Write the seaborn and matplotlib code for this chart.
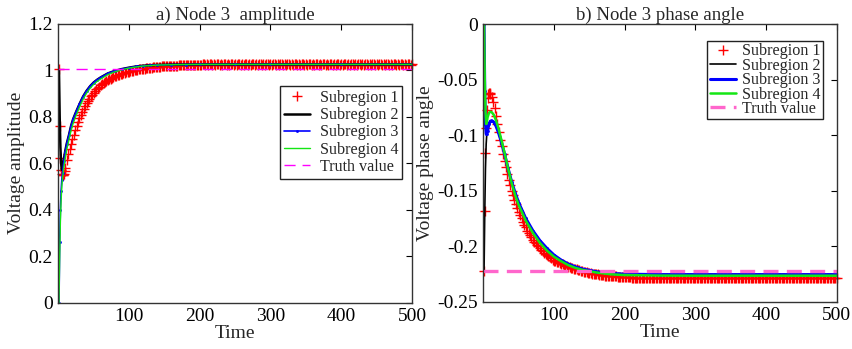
import matplotlib
matplotlib.use("Agg")
import matplotlib.pyplot as plt
import seaborn as sns
import numpy as np

# ---------------- data ----------------
# time samples for the red marker series (Subregion 1)
t_red = [1, 2, 3, 4, 5, 6, 7, 8, 9, 10] + list(range(12, 501, 2))

amp_sub1 = [1.008, 0.761, 0.622, 0.570, 0.553, 0.548, 0.550, 0.556, 0.565, 0.580,
            # t = 12 .. 100 (step 2)
            0.615, 0.640, 0.662, 0.683, 0.704, 0.724, 0.743, 0.761, 0.778, 0.794,
            0.809, 0.823, 0.836, 0.848, 0.859, 0.869, 0.879, 0.888, 0.896, 0.904,
            0.911, 0.918, 0.924, 0.930, 0.936, 0.941, 0.946, 0.950, 0.954, 0.958,
            0.962, 0.965, 0.968, 0.971, 0.974, 0.977, 0.979, 0.981, 0.984, 0.986,
            0.988, 0.990, 0.992, 0.993, 0.995,
            # t = 102 .. 200 (step 2)
            0.996, 0.997, 0.999, 1.000, 1.001, 1.003, 1.004, 1.005, 1.006, 1.007,
            1.008, 1.009, 1.010, 1.011, 1.011, 1.012, 1.013, 1.014, 1.014, 1.015,
            1.016, 1.016, 1.017, 1.017, 1.018, 1.018, 1.019, 1.019, 1.020, 1.020,
            1.020, 1.021, 1.021, 1.021, 1.022, 1.022, 1.022, 1.023, 1.023, 1.023,
            1.023, 1.024, 1.024, 1.024, 1.024, 1.024, 1.025, 1.025, 1.025, 1.025,
            # t = 202 .. 500 (step 2)
            1.025, 1.026, 1.026, 1.025, 1.026, 1.025, 1.026, 1.026, 1.025, 1.026,
            1.025, 1.026, 1.026, 1.025, 1.026, 1.025, 1.026, 1.026, 1.025, 1.026,
            1.025, 1.026, 1.026, 1.025, 1.026, 1.025, 1.026, 1.026, 1.025, 1.026,
            1.025, 1.026, 1.026, 1.025, 1.026, 1.025, 1.026, 1.026, 1.025, 1.026,
            1.025, 1.026, 1.026, 1.025, 1.026, 1.025, 1.026, 1.026, 1.025, 1.026,
            1.025, 1.026, 1.026, 1.025, 1.026, 1.025, 1.026, 1.026, 1.025, 1.026,
            1.025, 1.026, 1.026, 1.025, 1.026, 1.025, 1.026, 1.026, 1.025, 1.026,
            1.025, 1.026, 1.026, 1.025, 1.026, 1.025, 1.026, 1.026, 1.025, 1.026,
            1.025, 1.026, 1.026, 1.025, 1.026, 1.025, 1.026, 1.026, 1.025, 1.026,
            1.025, 1.026, 1.026, 1.025, 1.026, 1.025, 1.026, 1.026, 1.025, 1.026,
            1.025, 1.026, 1.026, 1.025, 1.026, 1.025, 1.026, 1.026, 1.025, 1.026,
            1.025, 1.026, 1.026, 1.025, 1.026, 1.025, 1.026, 1.026, 1.025, 1.026,
            1.025, 1.026, 1.026, 1.025, 1.026, 1.025, 1.026, 1.026, 1.025, 1.026,
            1.025, 1.026, 1.026, 1.025, 1.026, 1.025, 1.026, 1.026, 1.025, 1.026,
            1.025, 1.026, 1.026, 1.025, 1.026, 1.025, 1.026, 1.026, 1.025, 1.026]

ang_sub1 = [-0.2225, -0.168, -0.116, -0.094, -0.077, -0.067, -0.063, -0.062, -0.062, -0.063,
            # t = 12 .. 100 (step 2)
            -0.066, -0.070, -0.076, -0.083, -0.090, -0.097, -0.104, -0.110, -0.117, -0.123,
            -0.129, -0.135, -0.140, -0.145, -0.150, -0.154, -0.158, -0.162, -0.166, -0.169,
            -0.172, -0.175, -0.178, -0.181, -0.183, -0.186, -0.188, -0.190, -0.192, -0.194,
            -0.196, -0.197, -0.199, -0.200, -0.202, -0.203, -0.204, -0.206, -0.207, -0.208,
            -0.209, -0.210, -0.211, -0.212, -0.213,
            # t = 102 .. 200 (step 2)
            -0.2135, -0.2141, -0.2147, -0.2153, -0.2159, -0.2165, -0.2170, -0.2175, -0.2180, -0.2185,
            -0.2190, -0.2194, -0.2198, -0.2202, -0.2206, -0.2210, -0.2214, -0.2218, -0.2222, -0.2226,
            -0.2229, -0.2232, -0.2235, -0.2238, -0.2241, -0.2244, -0.2247, -0.2249, -0.2251, -0.2253,
            -0.2255, -0.2257, -0.2259, -0.2261, -0.2263, -0.2265, -0.2266, -0.2267, -0.2268, -0.2269,
            -0.2270, -0.2271, -0.2272, -0.2273, -0.2274, -0.2275, -0.2276, -0.2276, -0.2277, -0.2277,
            # t = 202 .. 500 (step 2)
            -0.2279, -0.2280, -0.2281, -0.2282, -0.2283, -0.2283, -0.2284, -0.2284, -0.2283, -0.2284,
            -0.2284, -0.2283, -0.2284, -0.2284, -0.2283, -0.2284, -0.2284, -0.2283, -0.2284, -0.2284,
            -0.2283, -0.2284, -0.2284, -0.2283, -0.2284, -0.2284, -0.2283, -0.2284, -0.2284, -0.2283,
            -0.2284, -0.2284, -0.2283, -0.2284, -0.2284, -0.2283, -0.2284, -0.2284, -0.2283, -0.2284,
            -0.2284, -0.2283, -0.2284, -0.2284, -0.2283, -0.2284, -0.2284, -0.2283, -0.2284, -0.2284,
            -0.2283, -0.2284, -0.2284, -0.2283, -0.2284, -0.2284, -0.2283, -0.2284, -0.2284, -0.2283,
            -0.2284, -0.2284, -0.2283, -0.2284, -0.2284, -0.2283, -0.2284, -0.2284, -0.2283, -0.2284,
            -0.2284, -0.2283, -0.2284, -0.2284, -0.2283, -0.2284, -0.2284, -0.2283, -0.2284, -0.2284,
            -0.2283, -0.2284, -0.2284, -0.2283, -0.2284, -0.2284, -0.2283, -0.2284, -0.2284, -0.2283,
            -0.2284, -0.2284, -0.2283, -0.2284, -0.2284, -0.2283, -0.2284, -0.2284, -0.2283, -0.2284,
            -0.2284, -0.2283, -0.2284, -0.2284, -0.2283, -0.2284, -0.2284, -0.2283, -0.2284, -0.2284,
            -0.2283, -0.2284, -0.2284, -0.2283, -0.2284, -0.2284, -0.2283, -0.2284, -0.2284, -0.2283,
            -0.2284, -0.2284, -0.2283, -0.2284, -0.2284, -0.2283, -0.2284, -0.2284, -0.2283, -0.2284,
            -0.2284, -0.2283, -0.2284, -0.2284, -0.2283, -0.2284, -0.2284, -0.2283, -0.2284, -0.2284,
            -0.2283, -0.2284, -0.2284, -0.2283, -0.2284, -0.2284, -0.2283, -0.2284, -0.2284, -0.2283]

# time samples for the line series (Subregions 2-4)
t_line = [1, 2, 3, 4, 5, 6, 8, 10, 12, 15, 18, 21, 25, 30, 35, 40, 45, 50, 55, 60,
          70, 80, 90, 100, 110, 120, 130, 140, 160, 180, 200, 250, 300, 400, 500]

amp_sub2 = [1.000, 0.800, 0.670, 0.600, 0.572, 0.580, 0.620, 0.655, 0.685, 0.720,
            0.760, 0.790, 0.820, 0.855, 0.887, 0.912, 0.932, 0.948, 0.960, 0.970,
            0.987, 0.998, 1.006, 1.012, 1.017, 1.020, 1.022, 1.0235, 1.025, 1.0255,
            1.026, 1.026, 1.026, 1.026, 1.026]
amp_sub3 = [0.000, 0.260, 0.400, 0.480, 0.530, 0.560, 0.610, 0.650, 0.685, 0.720,
            0.760, 0.790, 0.820, 0.855, 0.887, 0.912, 0.932, 0.948, 0.960, 0.970,
            0.987, 0.998, 1.006, 1.012, 1.017, 1.020, 1.022, 1.0235, 1.025, 1.0255,
            1.026, 1.026, 1.026, 1.026, 1.026]
amp_sub4 = [0.000, 0.200, 0.350, 0.440, 0.500, 0.535, 0.585, 0.625, 0.660, 0.700,
            0.740, 0.772, 0.805, 0.842, 0.875, 0.902, 0.923, 0.940, 0.953, 0.963,
            0.982, 0.994, 1.003, 1.010, 1.015, 1.019, 1.021, 1.023, 1.0245, 1.0255,
            1.026, 1.026, 1.026, 1.026, 1.026]

ang_sub2 = [-0.2225, -0.170, -0.130, -0.108, -0.098, -0.093, -0.089, -0.0875, -0.087, -0.0885,
            -0.092, -0.097, -0.105, -0.117, -0.130, -0.142, -0.152, -0.161, -0.168, -0.175,
            -0.186, -0.195, -0.202, -0.208, -0.2125, -0.216, -0.2185, -0.2205, -0.2230, -0.2245,
            -0.2252, -0.2256, -0.2256, -0.2256, -0.2256]
ang_sub3 = [0.000, -0.060, -0.090, -0.099, -0.099, -0.096, -0.090, -0.0875, -0.087, -0.0885,
            -0.092, -0.097, -0.105, -0.117, -0.130, -0.142, -0.152, -0.161, -0.168, -0.175,
            -0.186, -0.195, -0.202, -0.208, -0.2125, -0.216, -0.2185, -0.2205, -0.2230, -0.2245,
            -0.2252, -0.2256, -0.2256, -0.2256, -0.2256]
ang_sub4 = [0.000, -0.050, -0.080, -0.090, -0.088, -0.084, -0.080, -0.079, -0.0795, -0.082,
            -0.087, -0.093, -0.103, -0.116, -0.130, -0.143, -0.154, -0.163, -0.170, -0.177,
            -0.188, -0.197, -0.204, -0.2095, -0.2135, -0.217, -0.2195, -0.2213, -0.2237, -0.2253,
            -0.226, -0.2265, -0.2266, -0.2266, -0.2266]

t_truth = [0, 500]
amp_truth = [1.008, 1.008]
ang_truth = [-0.2225, -0.2225]

labels = ["Subregion 1", "Subregion 2", "Subregion 3", "Subregion 4", "Truth value"]
titles = ["a) Node 3  amplitude", "b) Node 3 phase angle"]
ylabels = ["Voltage amplitude", "Voltage phase angle"]
xticks = [100, 200, 300, 400, 500]
yticks_amp = [0, 0.2, 0.4, 0.6, 0.8, 1.0, 1.2]
yticklabels_amp = ["0", "0.2", "0.4", "0.6", "0.8", "1", "1.2"]
yticks_ang = [0, -0.05, -0.1, -0.15, -0.2, -0.25]
yticklabels_ang = ["0", "-0.05", "-0.1", "-0.15", "-0.2", "-0.25"]

# ---------------- style ----------------
sns.set_style("white")
plt.rcParams["font.family"] = ["Liberation Serif", "DejaVu Serif"]

fig = plt.figure(figsize=(8.52, 3.49), dpi=100)
axL = fig.add_axes([0.0684, 0.1327, 0.4151, 0.7986])
axR = fig.add_axes([0.5673, 0.1355, 0.4148, 0.7957])

RED = "#ff0000"
BLUE = "#0000ff"
GREEN = "#14e614"


def draw(ax, y1, y2, y3, y4, ytruth, lw2, lw3, lw4, truth_color, truth_lw, truth_dash):
    sns.lineplot(x=t_red, y=y1, ax=ax, color=RED, marker="+", linestyle="",
                 markersize=7, markeredgewidth=1.0, markeredgecolor=RED, clip_on=False,
                 label=labels[0], estimator=None, sort=False)
    sns.lineplot(x=t_line, y=y2, ax=ax, color="black", linewidth=lw2,
                 label=labels[1], estimator=None, sort=False)
    sns.lineplot(x=t_line, y=y3, ax=ax, color=BLUE, linewidth=lw3, marker=".",
                 markersize=3, markeredgewidth=0.5, markeredgecolor=BLUE,
                 label=labels[2], estimator=None, sort=False)
    sns.lineplot(x=t_line, y=y4, ax=ax, color=GREEN, linewidth=lw4,
                 label=labels[3], estimator=None, sort=False)
    sns.lineplot(x=t_truth, y=ytruth, ax=ax, color=truth_color, linewidth=truth_lw,
                 label=labels[4], estimator=None, sort=False)
    ax.lines[-1].set_dashes(truth_dash)


draw(axL, amp_sub1, amp_sub2, amp_sub3, amp_sub4, amp_truth,
     1.8, 1.2, 1.0, "#ff00ff", 1.0, (8, 5))
draw(axR, ang_sub1, ang_sub2, ang_sub3, ang_sub4, ang_truth,
     1.2, 2.2, 1.8, "#ff66cc", 2.4, (4.5, 2.5))

axL.set_xlim(0, 500)
axL.set_ylim(0, 1.2)
axL.set_yticks(yticks_amp)
axL.set_yticklabels(yticklabels_amp)
axR.set_xlim(0, 500)
axR.set_ylim(-0.25, 0)
axR.set_yticks(yticks_ang)
axR.set_yticklabels(yticklabels_ang)

for ax, title, ylab in zip([axL, axR], titles, ylabels):
    ax.set_xticks(xticks)
    ax.set_title(title, fontsize=13.5, pad=3)
    ax.set_xlabel("Time", fontsize=14, labelpad=0)
    ax.set_ylabel(ylab, fontsize=14, labelpad=2)
    ax.tick_params(direction="in", length=4, width=0.8, top=True, right=True,
                   labelsize=14, colors="black", pad=4)
    for s in ax.spines.values():
        s.set_color("#333333")
        s.set_linewidth(1.0)

legL = axL.legend(loc="upper right", bbox_to_anchor=(0.972, 0.778), fontsize=11.6,
                  frameon=True, fancybox=False, edgecolor="#222222", framealpha=1,
                  borderpad=0.25, labelspacing=0.08, handlelength=1.6, handletextpad=0.6,
                  borderaxespad=0)
legR = axR.legend(loc="upper right", bbox_to_anchor=(0.961, 0.939), fontsize=11.6,
                  frameon=True, fancybox=False, edgecolor="#222222", framealpha=1,
                  borderpad=0.15, labelspacing=-0.1, handlelength=1.6, handletextpad=0.4,
                  borderaxespad=0)
for leg in (legL, legR):
    leg.get_frame().set_linewidth(1.0)

fig.savefig("out.png", dpi=100)
